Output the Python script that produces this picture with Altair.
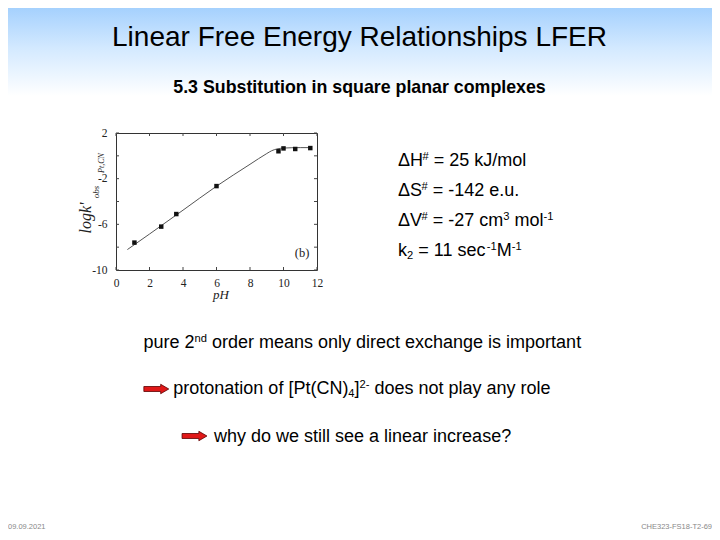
import altair as alt

# ---------------- data ----------------
ph_obs = [1.1, 2.7, 3.6, 6.0, 9.7, 10.0, 10.7, 11.6]
logk_obs = [-7.6, -6.2, -5.1, -2.65, 0.4, 0.65, 0.6, 0.68]
ph_fit = [0.68, 2.0, 4.0, 6.0, 8.0, 9.0, 9.3, 9.6, 10.0, 11.0, 11.7]
logk_fit = [-8.21, -6.85, -4.76, -2.66, -0.74, 0.2, 0.45, 0.6, 0.68, 0.72, 0.72]
x_ticks = [0, 2, 4, 6, 8, 10, 12]
y_ticks = [-10, -8, -6, -4, -2, 0, 2]
y_labelled = [2, -2, -6, -10]

title_text = "Linear Free Energy Relationships LFER"
subtitle_text = "5.3 Substitution in square planar complexes"
param_lines = [
    [("\u0394H", "n"), ("#", "sup"), (" = 25 kJ/mol", "n")],
    [("\u0394S", "n"), ("#", "sup"), (" = -142 e.u.", "n")],
    [("\u0394V", "n"), ("#", "sup"), (" = -27 cm", "n"), ("3", "sup"), (" mol", "n"), ("-1", "sup")],
    [("k", "n"), ("2", "sub"), (" = 11 sec", "n"), ("-1", "sup"), ("M", "n"), ("-1", "sup")],
]
note_lines = [
    [("pure 2", "n"), ("nd", "sup"), (" order means only direct exchange is important", "n")],
    [("protonation of [Pt(CN)", "n"), ("4", "sub"), ("]", "n"), ("2-", "sup"), (" does not play any role", "n")],
    [("why do we still see a linear increase?", "n")],
]
footer_left = "09.09.2021"
footer_right = "CHE323-FS18-T2-69"

# ---------------- layout ----------------
W, H = 201, 137          # plot area
OX, OY = 116, 133        # page position of plot origin
PAD = {"left": OX - 8, "top": OY - 8, "right": 704 - (OX - 8) - W, "bottom": 524 - (OY - 8) - H}
SANS = "Liberation Sans"
SERIF = "Liberation Serif"

AW = {' ': 278, '#': 556, '(': 333, ')': 333, ',': 278, '-': 333, '.': 278, '/': 278, '=': 584,
      '?': 556, '[': 278, ']': 278, '\u0394': 640, 'C': 722, 'H': 722, 'J': 500, 'M': 833,
      'N': 722, 'P': 667, 'S': 667, 'V': 667, 'a': 556, 'b': 556, 'c': 500, 'd': 556, 'e': 556,
      'f': 278, 'g': 556, 'h': 556, 'i': 222, 'j': 222, 'k': 500, 'l': 222, 'm': 833, 'n': 556,
      'o': 556, 'p': 556, 'q': 556, 'r': 333, 's': 500, 't': 278, 'u': 556, 'v': 500, 'w': 722,
      'x': 500, 'y': 500}
for dgt in "0123456789":
    AW[dgt] = 556


def tw(s, size):
    return sum(AW.get(ch, 556) for ch in s) * size / 1000.0


one = alt.Data(values=[{"k": 1}])


def T(text, px, py, size=18, font=SANS, weight="normal", style="normal", align="left",
      baseline="alphabetic", color="black", angle=0):
    return alt.Chart(one).mark_text(
        text=text, font=font, fontSize=size, fontWeight=weight, fontStyle=style,
        align=align, baseline=baseline, color=color, angle=angle
    ).encode(x=alt.value(px - OX), y=alt.value(py - OY))


def run(pieces, x0, base, size=18):
    out = []
    x = x0
    for s, kind in pieces:
        if kind == "n":
            sz, dy = size, 0
        elif kind == "sup":
            sz, dy = size * 0.62, -size * 0.36
        else:
            sz, dy = size * 0.62, size * 0.16
        lead = len(s) - len(s.lstrip(" "))
        body = s.strip(" ")
        xs_ = x + tw(" " * lead, sz)
        out.append(T(body, xs_, base + dy, sz))
        x += tw(s, sz)
    return out


def arrow(cx, cy):
    path = "M -1 -0.2 L 0.35 -0.2 L 0.35 -0.38 L 1 0 L 0.35 0.38 L 0.35 0.2 L -1 0.2 Z"
    return alt.Chart(one).mark_point(
        shape=path, size=620, filled=True, fill="#e01818", stroke="#5a0000",
        strokeWidth=0.8, opacity=1
    ).encode(x=alt.value(cx - OX), y=alt.value(cy - OY))


# ---------------- background gradient ----------------
grad = alt.Chart(one).mark_rect(
    color={"gradient": "linear", "x1": 0, "y1": 0, "x2": 0, "y2": 1,
           "stops": [{"offset": 0, "color": "#9cccfd"},
                     {"offset": 0.5, "color": "#d3e9ff"},
                     {"offset": 1, "color": "#ffffff"}]}
).encode(x=alt.value(-OX), x2=alt.value(720 - OX), y=alt.value(-OY), y2=alt.value(96 - OY))

# ---------------- plot ----------------
xs = alt.Scale(domain=[0, 12], nice=False, zero=False)
ys = alt.Scale(domain=[-10, 2], nice=False, zero=False)
xaxis = alt.Axis(values=x_ticks, title=None, ticks=False, domain=False, grid=False,
                 labelFont=SERIF, labelFontSize=11.5, labelColor="#222", labelPadding=7,
                 labelOverlap=False, labelFlush=False)
ylab = ",".join(str(v) for v in y_labelled)
yaxis = alt.Axis(values=y_ticks, title=None, ticks=False, domain=False, grid=False,
                 labelFont=SERIF, labelFontSize=11.5, labelColor="#222", labelPadding=9,
                 labelOverlap=False, labelFlush=False,
                 labelExpr="indexof([" + ylab + "], datum.value) >= 0 ? replace(datum.label, '\u2212', '-') : ''")
X = alt.X("x:Q", scale=xs, axis=xaxis)
Y = alt.Y("y:Q", scale=ys, axis=yaxis)

fit_data = alt.Data(values=[{"x": a, "y": b} for a, b in zip(ph_fit, logk_fit)])
obs_data = alt.Data(values=[{"x": a, "y": b} for a, b in zip(ph_obs, logk_obs)])
xt_data = alt.Data(values=[{"x": v} for v in x_ticks])
yt_data = alt.Data(values=[{"y": v} for v in y_ticks])

line = alt.Chart(fit_data).mark_line(color="#555", strokeWidth=1, interpolate="monotone").encode(x=X, y=Y)
pts = alt.Chart(obs_data).mark_square(size=20, color="#111", opacity=1).encode(x=X, y=Y)
tk_b = alt.Chart(xt_data).mark_rule(color="#444", strokeWidth=1).encode(x=X, y=alt.value(H), y2=alt.value(H - 3))
tk_t = alt.Chart(xt_data).mark_rule(color="#444", strokeWidth=1).encode(x=X, y=alt.value(0), y2=alt.value(3))
tk_l = alt.Chart(yt_data).mark_rule(color="#444", strokeWidth=1).encode(y=Y, x=alt.value(0), x2=alt.value(3))
tk_r = alt.Chart(yt_data).mark_rule(color="#444", strokeWidth=1).encode(y=Y, x=alt.value(W), x2=alt.value(W - 3))

layers = [grad, line, pts, tk_b, tk_t, tk_l, tk_r]

# plot annotations
layers.append(T("(b)", 302, 253, size=12.5, font=SERIF, align="center", baseline="middle", color="#222"))
layers.append(T("pH", 221, 295, size=13, font=SERIF, style="italic", align="center", baseline="middle", color="#222"))
layers.append(T("logk'", 86, 218, size=16, font=SERIF, style="italic", align="center", baseline="middle", color="#222", angle=270))
layers.append(T("obs", 95.5, 192, size=9, font=SERIF, style="italic", align="center", baseline="middle", color="#222", angle=270))
layers.append(T("Pt,CN", 101.5, 163, size=8, font=SERIF, style="italic", align="center", baseline="middle", color="#222", angle=270))

# slide texts
layers.append(T(title_text, 359.5, 46, size=28, align="center"))
layers.append(T(subtitle_text, 359.5, 93, size=17.8, weight="bold", align="center"))
for i, pieces in enumerate(param_lines):
    layers += run(pieces, 398, [166, 196, 226, 256][i])
note_x = [143.5, 173.3, 214]
note_base = [348, 394, 442]
for i, pieces in enumerate(note_lines):
    layers += run(pieces, note_x[i], note_base[i])
layers.append(arrow(156.3, 389))
layers.append(arrow(194.5, 436))
layers.append(T(footer_left, 8, 527, size=7.5, color="#888", baseline="middle"))
layers.append(T(footer_right, 712, 527, size=7.5, color="#888", baseline="middle", align="right"))

chart = alt.layer(*layers).properties(
    width=W, height=H, padding=PAD, autosize=alt.AutoSizeParams(type="none"), background="white"
).configure_view(stroke="#333", strokeWidth=1)

chart.save("out.html", embed_options={"renderer": "svg", "actions": False})
